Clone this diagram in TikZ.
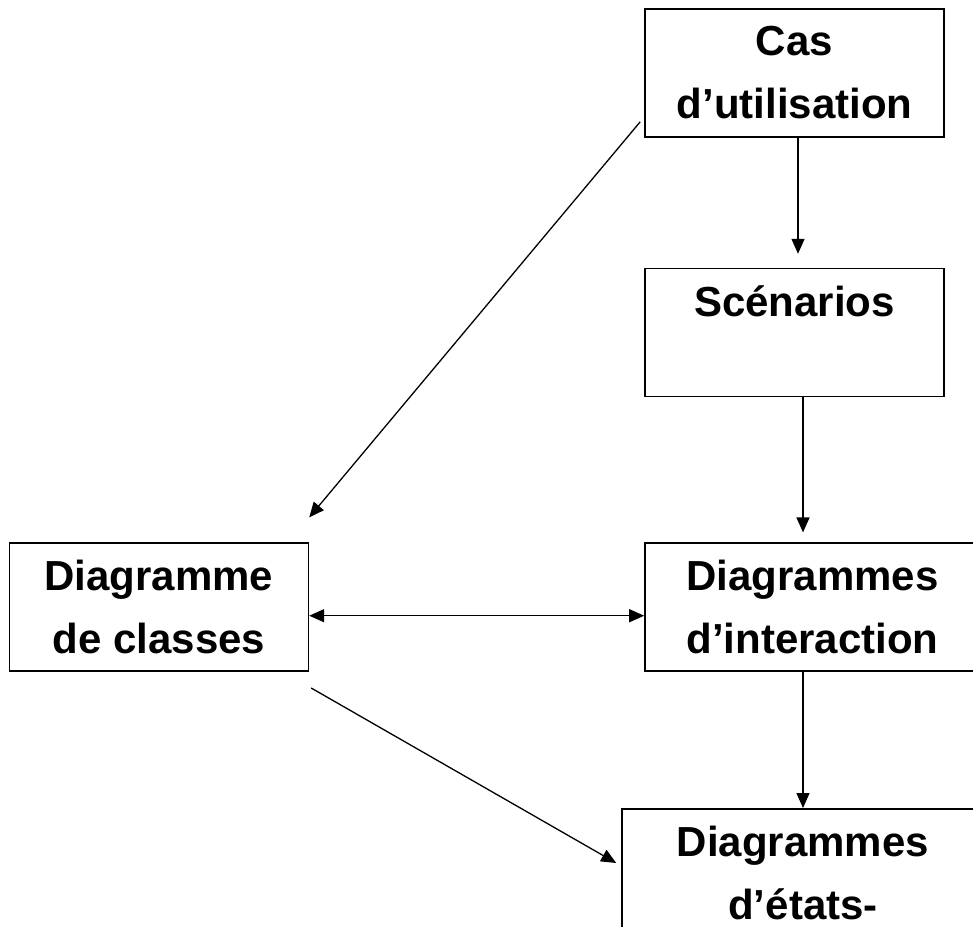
\documentclass[tikz,border=0pt]{standalone}
\usepackage{fontspec}
\setmainfont{Liberation Sans}
\usetikzlibrary{positioning,arrows.meta}

\begin{document}
\begin{tikzpicture}[x=1pt, y=1pt, font=\fontsize{42}{63}\selectfont\bfseries,
    >={Triangle[length=15pt,width=13pt]},
    box/.style={rectangle, draw, line width=1.6pt, inner sep=0pt, minimum height=128pt, align=center},
    arr/.style={->, line width=1.3pt}]
  \clip (0,0) rectangle (973,-926);

  \node[box, minimum width=299pt] (usecase) at (794.5,-73) {Cas\\d’utilisation};
  \node[box, minimum width=299pt, below=130pt of usecase] (scenarios) {Scénarios\\~};
  \node[box, minimum width=335pt, below right=145pt and 0pt of scenarios.south west] (interaction) {Diagrammes\\d’interaction};
  \node[box, minimum width=299pt, left=335pt of interaction] (classes) {Diagramme\\de classes};
  \node[box, minimum width=362pt, below right=136pt and -23pt of interaction.south west] (states) {Diagrammes\\d’états-};

  \draw[arr, shorten >=14pt] ([xshift=3.5pt]usecase.south) -- ([xshift=3.5pt]scenarios.north);
  \draw[arr, shorten >=10pt] (scenarios.south -| states.north) -- (interaction.north -| states.north);
  \draw[arr] ([xshift=-4pt,yshift=16pt]usecase.south west) -- ([yshift=25pt]classes.north east);
  \draw[arr, <->] ([yshift=-8.5pt]classes.east) -- ([yshift=-8.5pt]interaction.west);
  \draw[arr] (interaction.south -| states.north) -- (states.north);
  \draw[arr] ([xshift=2pt,yshift=-16pt]classes.south east) -- ([xshift=-5pt,yshift=-55pt]states.north west);
\end{tikzpicture}
\end{document}
